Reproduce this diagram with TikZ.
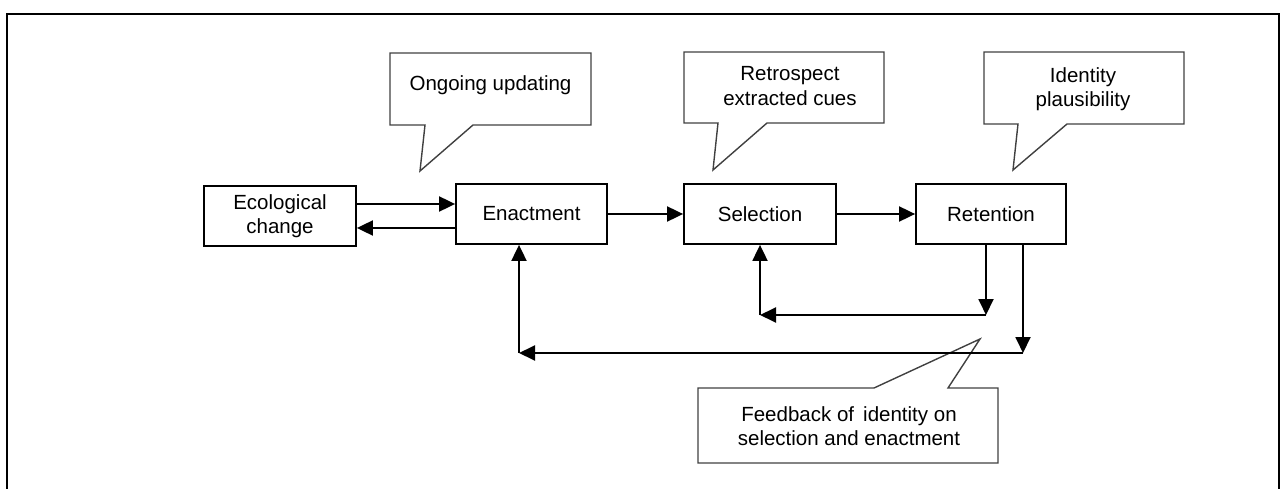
\documentclass[tikz,border=0pt]{standalone}
\usepackage{fontspec}
\setmainfont{Liberation Sans}
\usetikzlibrary{arrows.meta}
\begin{document}
\begin{tikzpicture}[x=1pt,y=-1pt,
  every node/.style={font=\fontsize{20.5}{24.5}\selectfont},
  stagebox/.style={draw=black, line width=1.8pt, minimum width=#1, minimum height=60pt, inner sep=0pt, align=center},
  calltext/.style={align=center, inner sep=0pt},
  callline/.style={draw=black!75, line width=1.4pt, line join=miter},
  arr/.style={line width=1.9pt, -{Triangle[length=16pt,width=15pt]}},
  frameline/.style={line width=2.2pt}
]
\useasboundingbox (0,0) rectangle (1280,489);
% outer frame (open at the bottom)
\draw[frameline] (7,489) -- (7,14) -- (1279,14) -- (1279,489);

% callouts
\draw[callline] (390,125) -- (425,125) -- (420,171) -- (473,125) -- (591,125) -- (591,53) -- (390,53) -- cycle;
\node[calltext] (c1) at (490.5,85) {Ongoing updating};
\draw[callline] (684,123) -- (718,123) -- (713,170) -- (767,123) -- (884,123) -- (884,52) -- (684,52) -- cycle;
\node[calltext] (c2) at (790,86) {Retrospect\\extracted cues};
\draw[callline] (984,124) -- (1018,124) -- (1013,170) -- (1067,124) -- (1184,124) -- (1184,52) -- (984,52) -- cycle;
\node[calltext] (c3) at (1083,89) {Identity\\plausibility};
\draw[callline] (698,388) -- (874,388) -- (980,339) -- (948,388) -- (998,388) -- (998,463) -- (698,463) -- cycle;
\node[calltext] (c4) at (849,426) {Feedback of\, identity on\\selection and enactment};

% stage boxes
\node[stagebox=152pt] (eco) at (280,216) {Ecological\\change};
\node[stagebox=151pt] (enact) at (531.5,214) {Enactment};
\node[stagebox=152pt] (sel) at (760,214) {Selection};
\node[stagebox=150pt] (ret) at (991,214) {Retention};

% forward arrows
\coordinate (a1) at (356,204);
\coordinate (a2) at (356,228);
\draw[arr] (eco.east |- a1) -- (enact.west |- a1);
\draw[arr] (enact.west |- a2) -- (eco.east |- a2);
\draw[arr] (enact.east) -- (sel.west);
\draw[arr] (sel.east) -- (ret.west);

% feedback loops
\coordinate (r1) at (986,315);
\coordinate (r2) at (1023,353);
\coordinate (e1) at (519,353);
\draw[arr] (ret.south -| r1) -- (r1);
\draw[arr] (r1) -- (sel.south |- r1);
\draw[arr] (sel.south |- r1) -- (sel.south);
\draw[arr] (ret.south -| r2) -- (r2);
\draw[arr] (r2) -- (e1);
\draw[arr] (e1) -- (enact.south -| e1);
\end{tikzpicture}
\end{document}
